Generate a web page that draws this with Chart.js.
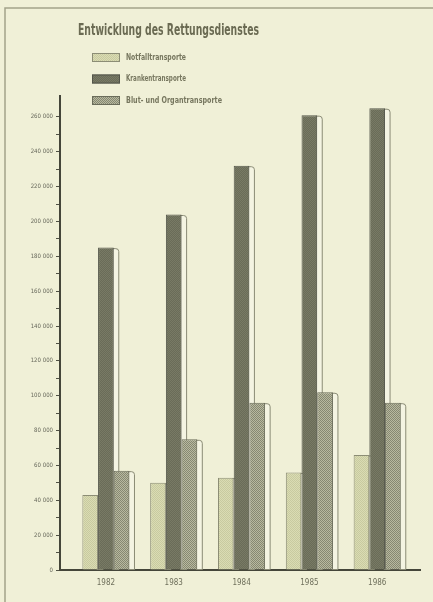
<!DOCTYPE html>
<html lang="de">
<head>
<meta charset="utf-8">
<title>Entwicklung des Rettungsdienstes</title>
<script src="https://cdn.jsdelivr.net/npm/chart.js@4/dist/chart.umd.min.js"></script>
<style>
  html, body { margin: 0; padding: 0; background: #f0f0d7; }
  #wrap { position: relative; width: 433px; height: 602px; overflow: hidden; }
  #cap { position: absolute; left: 2px; top: -7px; font: bold 10px 'Liberation Sans Narrow', 'DejaVu Sans Condensed', sans-serif; color: #8a8a72; }
  canvas { position: absolute; left: 0; top: 0; }
</style>
</head>
<body>
<div id="wrap">
  <div id="cap">Diagramm 1</div>
  <canvas id="c" width="433" height="602"></canvas>
</div>
<script>
// Jahre und Fallzahlen
const years = [1982, 1983, 1984, 1985, 1986];
const notfall = [43000, 50000, 53000, 56000, 66000];
const kranken = [185000, 204000, 232000, 261000, 265000];
const blut = [57000, 75000, 96000, 102000, 96000];
const seriesNames = ['Notfalltransporte', 'Krankentransporte', 'Blut- und Organtransporte'];
const yTickValues = [0, 10000, 20000, 30000, 40000, 50000, 60000, 70000, 80000, 90000, 100000,
  110000, 120000, 130000, 140000, 150000, 160000, 170000, 180000, 190000, 200000,
  210000, 220000, 230000, 240000, 250000, 260000];

const COND = "'Liberation Sans Narrow', 'DejaVu Sans Condensed', sans-serif";

// fine raster fills for the bars
function raster(base, dot, step) {
  const p = document.createElement('canvas');
  p.width = step * 2; p.height = step * 2;
  const g = p.getContext('2d');
  g.fillStyle = base; g.fillRect(0, 0, p.width, p.height);
  g.fillStyle = dot;
  g.fillRect(0, 0, step, step);
  g.fillRect(step, step, step, step);
  return g.createPattern(p, 'repeat');
}
const fills = [
  raster('#dadcb3', '#c8caa0', 1),
  raster('#6a6c58', '#787a65', 1),
  raster('#b8b99f', '#868872', 1)
];
const edges = ['#8c8d75', '#53554a', '#6a6c5a'];

function points(values) { return values.map((v, i) => ({ x: years[i], y: v })); }

const fmt = v => String(v).replace(/\B(?=(\d{3})+(?!\d))/g, ' ');

// light side faces to the right of each bar, drawn underneath the bars
const sideFaces = {
  id: 'sideFaces',
  beforeDatasetsDraw(chart) {
    const ctx = chart.ctx;
    ctx.save();
    chart.data.datasets.forEach((ds, di) => {
      const meta = chart.getDatasetMeta(di);
      meta.data.forEach(el => {
        const { x, y, width, base } = el.getProps(['x', 'y', 'width', 'base'], true);
        const r = x + width / 2;
        const d = 5, top = y + 1;
        ctx.beginPath();
        ctx.moveTo(r - 1, top);
        ctx.lineTo(r + d - 3, top);
        ctx.arcTo(r + d, top, r + d, top + 3, 3);
        ctx.lineTo(r + d, base);
        ctx.lineTo(r - 1, base);
        ctx.closePath();
        ctx.fillStyle = '#f4f4e2';
        ctx.fill();
        ctx.lineWidth = 1;
        ctx.strokeStyle = '#8a8b75';
        ctx.stroke();
      });
    });
    ctx.restore();
  }
};

// paper, frame, heading and legend
const sheet = {
  id: 'sheet',
  beforeDraw(chart) {
    const ctx = chart.ctx;
    ctx.save();
    ctx.fillStyle = '#f0f0d7';
    ctx.fillRect(0, 0, chart.width, chart.height);
    ctx.strokeStyle = '#a2a28a';
    ctx.lineWidth = 1.5;
    ctx.beginPath();
    ctx.moveTo(5, 610);
    ctx.lineTo(5, 8);
    ctx.lineTo(440, 8);
    ctx.stroke();
    ctx.restore();
  },
  afterDraw(chart) {
    const ctx = chart.ctx;
    ctx.save();
    ctx.fillStyle = '#6a6a52';
    ctx.font = 'bold 15px ' + COND;
    ctx.textBaseline = 'alphabetic';
    ctx.fillText('Entwicklung des Rettungsdienstes', 78, 35, 181);
    const widths = [60, 60, 96];
    chart.data.datasets.forEach((ds, i) => {
      const y = 53 + i * 21.5;
      ctx.fillStyle = fills[i];
      ctx.fillRect(92, y, 28, 9);
      ctx.strokeStyle = edges[i];
      ctx.lineWidth = 1;
      ctx.strokeRect(92.5, y + 0.5, 27, 8);
      ctx.fillStyle = '#76765e';
      ctx.font = 'bold 8px ' + COND;
      ctx.textBaseline = 'middle';
      ctx.fillText(ds.label, 126, y + 4.5, widths[i]);
    });
    ctx.restore();
  }
};

new Chart(document.getElementById('c'), {
  type: 'bar',
  data: {
    datasets: [
      { label: seriesNames[0], data: points(notfall), backgroundColor: fills[0], borderColor: edges[0], borderWidth: 1, borderSkipped: 'bottom' },
      { label: seriesNames[1], data: points(kranken), backgroundColor: fills[1], borderColor: edges[1], borderWidth: 1, borderSkipped: 'bottom' },
      { label: seriesNames[2], data: points(blut), backgroundColor: fills[2], borderColor: edges[2], borderWidth: 1, borderSkipped: 'bottom' }
    ]
  },
  options: {
    responsive: false,
    animation: false,
    devicePixelRatio: 1,
    layout: { padding: { top: 96, right: 13, bottom: 0, left: 0 } },
    datasets: { bar: { categoryPercentage: 0.695, barPercentage: 1.0, grouped: true } },
    plugins: {
      legend: { display: false },
      title: { display: false },
      tooltip: { enabled: false }
    },
    scales: {
      x: {
        type: 'linear',
        offset: false,
        min: 1981.323,
        max: 1986.631,
        afterFit(s) { s.height = 32; },
        afterBuildTicks(s) { s.ticks = years.map(v => ({ value: v })); },
        grid: { display: true, offset: false, drawOnChartArea: false, drawTicks: false, tickLength: 0 },
        border: { display: true, color: '#45463a', width: 2 },
        ticks: {
          padding: 8,
          color: '#6e6f5b',
          font: { family: COND, size: 8 },
          maxRotation: 0,
          autoSkip: false,
          callback: v => String(v)
        }
      },
      y: {
        type: 'linear',
        min: 0,
        max: 272000,
        afterFit(s) { s.width = 60; },
        afterBuildTicks(s) { s.ticks = yTickValues.map(v => ({ value: v })); },
        grid: { display: true, drawOnChartArea: false, drawTicks: true, tickLength: 4, tickColor: '#505145', tickWidth: 1 },
        border: { display: true, color: '#45463a', width: 2 },
        ticks: {
          padding: 3,
          color: '#66675a',
          font: { family: COND, size: 6 },
          autoSkip: false,
          callback: v => (v % 20000 === 0 ? fmt(v) : '')
        }
      }
    }
  },
  plugins: [sheet, sideFaces]
});
</script>
</body>
</html>
